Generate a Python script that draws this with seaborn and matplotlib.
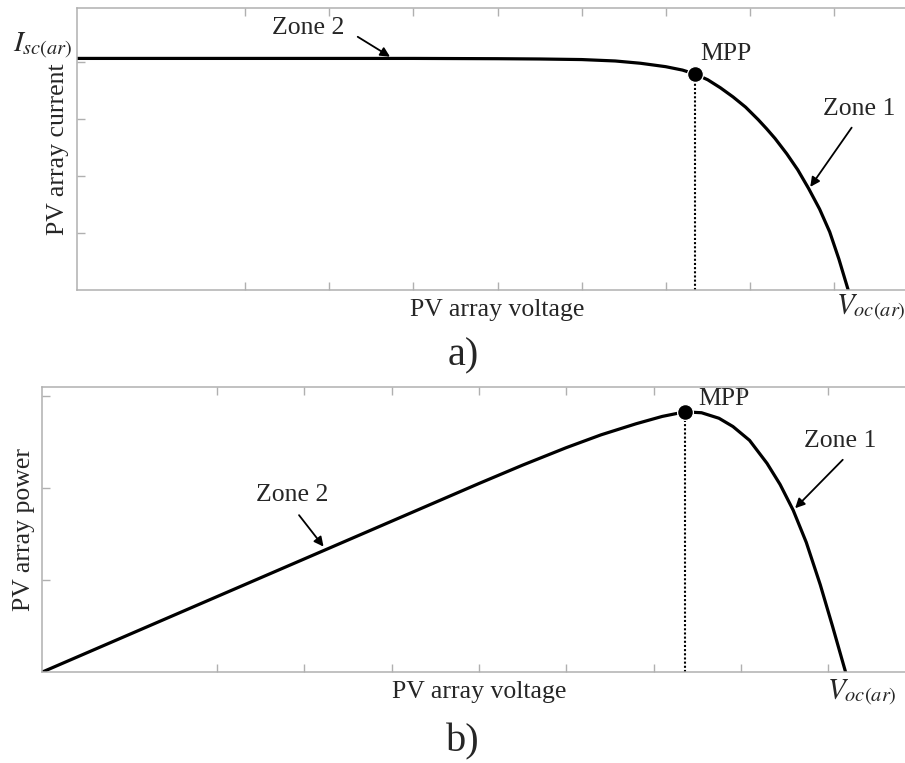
import matplotlib
matplotlib.use("Agg")
import matplotlib.pyplot as plt
import seaborn as sns

# I-V curve of the PV array (voltage and current in tick units)
voltage_iv = [0, 1, 2, 3, 4, 5, 5.5, 6.0, 6.4, 6.7, 7.0, 7.2, 7.35, 7.5, 7.65, 7.8,
              7.95, 8.1, 8.2, 8.3, 8.44, 8.57, 8.7, 8.83, 8.95, 9.06, 9.17]
current_iv = [4.065, 4.065, 4.065, 4.065, 4.065, 4.06, 4.055, 4.045, 4.02, 3.98, 3.92,
              3.86, 3.79, 3.69, 3.55, 3.39, 3.21, 2.99, 2.83, 2.66, 2.39, 2.11, 1.78,
              1.42, 1.02, 0.54, 0.0]
mpp_iv = (7.35, 3.79)

# P-V curve of the PV array
voltage_pv = [0, 1, 2, 3, 4, 5, 5.5, 6.0, 6.4, 6.8, 7.1, 7.36, 7.55, 7.75, 7.91, 8.1,
              8.3, 8.45, 8.6, 8.75, 8.91, 9.05, 9.2]
power_pv = [0, 0.41, 0.82, 1.23, 1.64, 2.05, 2.25, 2.44, 2.58, 2.70, 2.78, 2.83, 2.82,
            2.76, 2.67, 2.52, 2.27, 2.04, 1.76, 1.41, 0.95, 0.50, 0]
mpp_pv = (7.36, 2.83)

x_ticks = [2, 3, 4, 5, 6, 7, 8, 9]
y_ticks_iv = [1, 2, 3, 4]
y_ticks_pv = [1, 2, 3]

sns.set_style("ticks")
plt.rcParams["font.family"] = ["Liberation Serif", "DejaVu Serif"]
plt.rcParams["mathtext.fontset"] = "stix"

W, H = 905, 763
fig = plt.figure(figsize=(W / 100, H / 100), dpi=100)


def px_axes(left, top, right, bottom):
    return fig.add_axes([left / W, 1 - bottom / H, (right - left) / W, (bottom - top) / H])


ax1 = px_axes(77, 8, 918, 290)
ax2 = px_axes(42.4, 387, 915.4, 672)

for ax in (ax1, ax2):
    ax.set_xlim(0, 10)
    ax.set_xticks(x_ticks)
    ax.tick_params(direction="in", length=5.5, width=1, color="#b0b0b0",
                   top=True, right=False, labelbottom=False, labelleft=False)
    for sp in ax.spines.values():
        sp.set_color("#b0b0b0")
        sp.set_linewidth(1.1)
    ax.spines["right"].set_visible(False)

fs = 18.5
arrow = dict(arrowstyle="-|>", color="black", lw=1.3, mutation_scale=14)

# Plot a) I-V
ax1.set_ylim(0, 4.95)
ax1.set_yticks(y_ticks_iv)
sns.lineplot(x=voltage_iv, y=current_iv, ax=ax1, color="black", lw=2.3, sort=False)
ax1.plot([mpp_iv[0], mpp_iv[0]], [0, mpp_iv[1]], color="black", lw=1.5, ls=(0, (1, 1)))
sns.scatterplot(x=[mpp_iv[0]], y=[mpp_iv[1]], ax=ax1, color="black", s=130, zorder=5)
ax1.text(7.71, 4.14, "MPP", fontsize=fs, ha="center", va="center")
ax1.text(2.75, 4.60, "Zone 2", fontsize=fs, ha="center", va="center")
ax1.annotate("", xy=(3.75, 4.07), xytext=(3.31, 4.47), arrowprops=arrow)
ax1.text(9.30, 3.18, "Zone 1", fontsize=fs, ha="center", va="center")
ax1.annotate("", xy=(8.70, 1.77), xytext=(9.23, 2.89), arrowprops=arrow)
ax1.text(-0.05, 4.28, r"$I_{sc(ar)}$", fontsize=21, ha="right", va="center", clip_on=False)
ax1.text(9.02, -0.04, r"$V_{oc(ar)}$", fontsize=21, ha="left", va="top", clip_on=False)
ax1.text(0.5, -20 / 282, "PV array voltage", fontsize=fs, ha="center", va="center",
         transform=ax1.transAxes)
ax1.text(-19 / 841, 0.5, "PV array current", fontsize=fs, ha="center", va="center",
         rotation=90, transform=ax1.transAxes)
ax1.set_xlabel("")
ax1.set_ylabel("")

# Plot b) P-V
ax2.set_ylim(0, 3.1)
ax2.set_yticks(y_ticks_pv)
sns.lineplot(x=voltage_pv, y=power_pv, ax=ax2, color="black", lw=2.3, sort=False)
ax2.plot([mpp_pv[0], mpp_pv[0]], [0, mpp_pv[1]], color="black", lw=1.5, ls=(0, (1, 1)))
sns.scatterplot(x=[mpp_pv[0]], y=[mpp_pv[1]], ax=ax2, color="black", s=130, zorder=5)
ax2.text(7.81, 2.97, "MPP", fontsize=fs, ha="center", va="center")
ax2.text(9.14, 2.51, "Zone 1", fontsize=fs, ha="center", va="center")
ax2.annotate("", xy=(8.60, 1.76), xytext=(9.19, 2.33), arrowprops=arrow)
ax2.text(2.86, 1.92, "Zone 2", fontsize=fs, ha="center", va="center")
ax2.annotate("", xy=(3.24, 1.34), xytext=(2.92, 1.73), arrowprops=arrow)
ax2.text(8.99, -0.06, r"$V_{oc(ar)}$", fontsize=21, ha="left", va="top", clip_on=False)
ax2.text(0.5, -20 / 285, "PV array voltage", fontsize=fs, ha="center", va="center",
         transform=ax2.transAxes)
ax2.text(-18 / 873, 0.5, "PV array power", fontsize=fs, ha="center", va="center",
         rotation=90, transform=ax2.transAxes)
ax2.set_xlabel("")
ax2.set_ylabel("")

fig.text(463 / W, 1 - 356 / H, "a)", fontsize=29, ha="center", va="center")
fig.text(463 / W, 1 - 742 / H, "b)", fontsize=29, ha="center", va="center")

fig.savefig("out.png", dpi=100)
